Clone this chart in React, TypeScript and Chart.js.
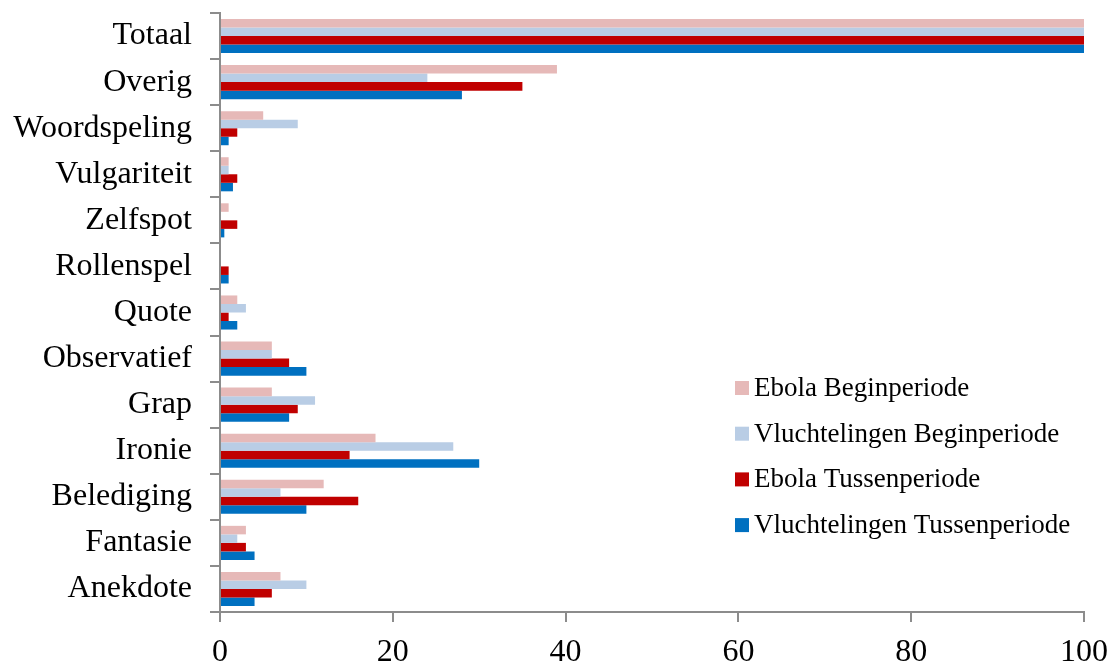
import React, { useEffect, useRef } from "react";
import { Chart, registerables } from "chart.js";

Chart.register(...registerables);

// Categories, top to bottom
const categories = [
  "Totaal",
  "Overig",
  "Woordspeling",
  "Vulgariteit",
  "Zelfspot",
  "Rollenspel",
  "Quote",
  "Observatief",
  "Grap",
  "Ironie",
  "Belediging",
  "Fantasie",
  "Anekdote",
];

// Percentages per series
const ebolaBegin = [100, 39, 5, 1, 1, 0, 2, 6, 6, 18, 12, 3, 7];
const vluchtelingenBegin = [100, 24, 9, 1, 0, 0, 3, 6, 11, 27, 7, 2, 10];
const ebolaTussen = [100, 35, 2, 2, 2, 1, 1, 8, 9, 15, 16, 3, 6];
const vluchtelingenTussen = [100, 28, 1, 1.5, 0.5, 1, 2, 10, 8, 30, 10, 4, 4];

const seriesLabels = [
  "Ebola Beginperiode",
  "Vluchtelingen Beginperiode",
  "Ebola Tussenperiode",
  "Vluchtelingen Tussenperiode",
];
const seriesColors = ["#E6B9B8", "#B9CDE5", "#C00000", "#0070C0"];

const FONT = "'Liberation Serif', 'Times New Roman', serif";
const AXIS_GRAY = "#8c8c8c";

// Legend drawn inside the plot area, lower right
const insideLegend = {
  id: "insideLegend",
  afterDraw(chart: any) {
    const ctx = chart.ctx;
    ctx.save();
    ctx.font = `27px ${FONT}`;
    ctx.textAlign = "left";
    ctx.textBaseline = "alphabetic";
    chart.data.datasets.forEach((ds: any, i: number) => {
      const baseline = 396 + i * 45.7;
      ctx.fillStyle = ds.backgroundColor;
      ctx.fillRect(735, baseline - 15, 14, 14);
      ctx.fillStyle = "#000000";
      ctx.fillText(ds.label, 754, baseline);
    });
    ctx.restore();
  },
};

export default function App() {
  const canvasRef = useRef<HTMLCanvasElement | null>(null);

  useEffect(() => {
    if (!canvasRef.current) return;
    const values = [ebolaBegin, vluchtelingenBegin, ebolaTussen, vluchtelingenTussen];
    const chart = new Chart(canvasRef.current, {
      type: "bar",
      data: {
        labels: categories,
        datasets: values.map((data, i) => ({
          label: seriesLabels[i],
          data,
          backgroundColor: seriesColors[i],
          borderWidth: 0,
          categoryPercentage: 0.74,
          barPercentage: 1.0,
        })),
      },
      options: {
        indexAxis: "y",
        animation: false,
        responsive: false,
        layout: { padding: { top: 13, right: 27, left: 0, bottom: 0 } },
        plugins: {
          legend: { display: false },
          tooltip: { enabled: false },
        },
        scales: {
          x: {
            min: 0,
            max: 100,
            ticks: {
              stepSize: 20,
              color: "#000000",
              font: { family: FONT, size: 32 },
              padding: 11,
            },
            grid: {
              drawOnChartArea: false,
              drawTicks: true,
              tickLength: 10,
              color: AXIS_GRAY,
              lineWidth: 2,
            },
            border: { display: true, color: AXIS_GRAY, width: 2 },
            afterFit(scale: any) {
              scale.height = 51;
              scale.paddingLeft = 0;
              scale.paddingRight = 0;
            },
          },
          y: {
            ticks: {
              color: "#000000",
              font: { family: FONT, size: 32 },
              padding: 18,
            },
            grid: {
              offset: true,
              drawOnChartArea: false,
              drawTicks: true,
              tickLength: 10,
              color: AXIS_GRAY,
              lineWidth: 2,
            },
            border: { display: true, color: AXIS_GRAY, width: 2 },
            afterFit(scale: any) {
              scale.width = 220;
              scale.paddingTop = 0;
              scale.paddingBottom = 0;
            },
          },
        },
      },
      plugins: [insideLegend],
    });
    return () => chart.destroy();
  }, []);

  return (
    <div
      style={{
        position: "fixed",
        left: 0,
        top: 0,
        width: 1111,
        height: 663,
        background: "#ffffff",
      }}
    >
      <canvas
        ref={canvasRef}
        width={1111}
        height={663}
        style={{ width: 1111, height: 663, display: "block" }}
      />
    </div>
  );
}
